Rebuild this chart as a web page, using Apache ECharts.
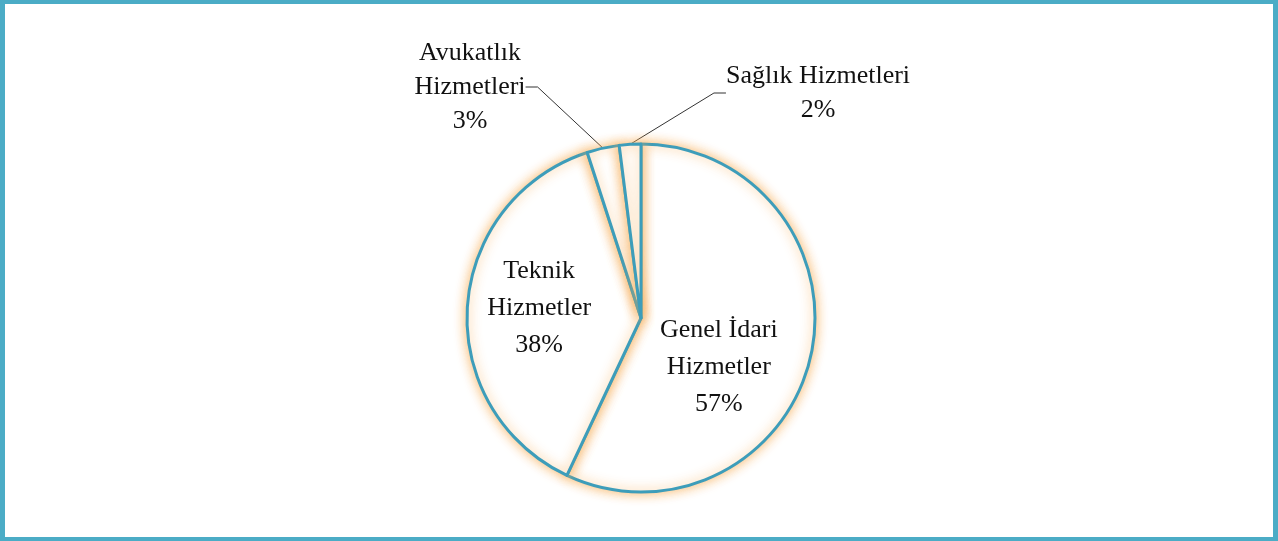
<!DOCTYPE html>
<html>
<head>
<meta charset="utf-8">
<script src="https://cdn.jsdelivr.net/npm/echarts@6/dist/echarts.min.js"></script>
<style>
  html, body { margin: 0; padding: 0; background: #fff; }
  #frame {
    position: absolute; left: 0; top: 0;
    width: 1278px; height: 541px; box-sizing: border-box;
    border: 4px solid #4bacc6; border-left-width: 5px; border-right-width: 5px;
  }
  #chart { width: 1268px; height: 533px; }
</style>
</head>
<body>
<div id="frame"><div id="chart"></div></div>
<script>
// dilim adları ve yüzdeleri (saat yönünde, tepeden başlayarak)
var categories = ['Genel İdari\nHizmetler', 'Teknik\nHizmetler', 'Avukatlık\nHizmetleri', 'Sağlık Hizmetleri'];
var values = [57, 38, 3, 2];

var chartDom = document.getElementById('chart');
var myChart = echarts.init(chartDom);

var pieData = categories.map(function (name, i) {
  var item = { name: name, value: values[i] };
  if (values[i] < 10) {
    item.label = { position: 'outside', lineHeight: 34 };
    item.labelLine = { show: true };
  }
  return item;
});

var option = {
  animation: false,
  series: [
    {
      type: 'pie',
      center: [636, 314],
      radius: 174,
      startAngle: 90,
      clockwise: true,
      itemStyle: {
        color: '#ffffff',
        borderColor: '#3d9dba',
        borderWidth: 3,
        shadowBlur: 12,
        shadowColor: 'rgba(247,170,80,0.85)'
      },
      label: {
        show: true,
        position: 'inside',
        formatter: function (p) { return p.name + '\n' + p.value + '%'; },
        fontFamily: 'Liberation Serif',
        fontSize: 26,
        lineHeight: 37,
        color: '#111',
        align: 'center'
      },
      labelLine: {
        show: false,
        lineStyle: { color: '#333', width: 1 },
        length: 40,
        length2: 12
      },
      labelLayout: function (p) {
        // küçük dilimlerin etiketlerini yukarıya taşı
        if (p.dataIndex === 2) return { x: 465, y: 83, align: 'center', verticalAlign: 'middle' };
        if (p.dataIndex === 3) return { x: 813, y: 89, align: 'center', verticalAlign: 'middle' };
        if (p.dataIndex === 0) return { dx: -10, dy: 30 };
        if (p.dataIndex === 1) return { dx: -12, dy: -4 };
        return {};
      },
      data: pieData
    }
  ]
};
myChart.setOption(option);
</script>
</body>
</html>
